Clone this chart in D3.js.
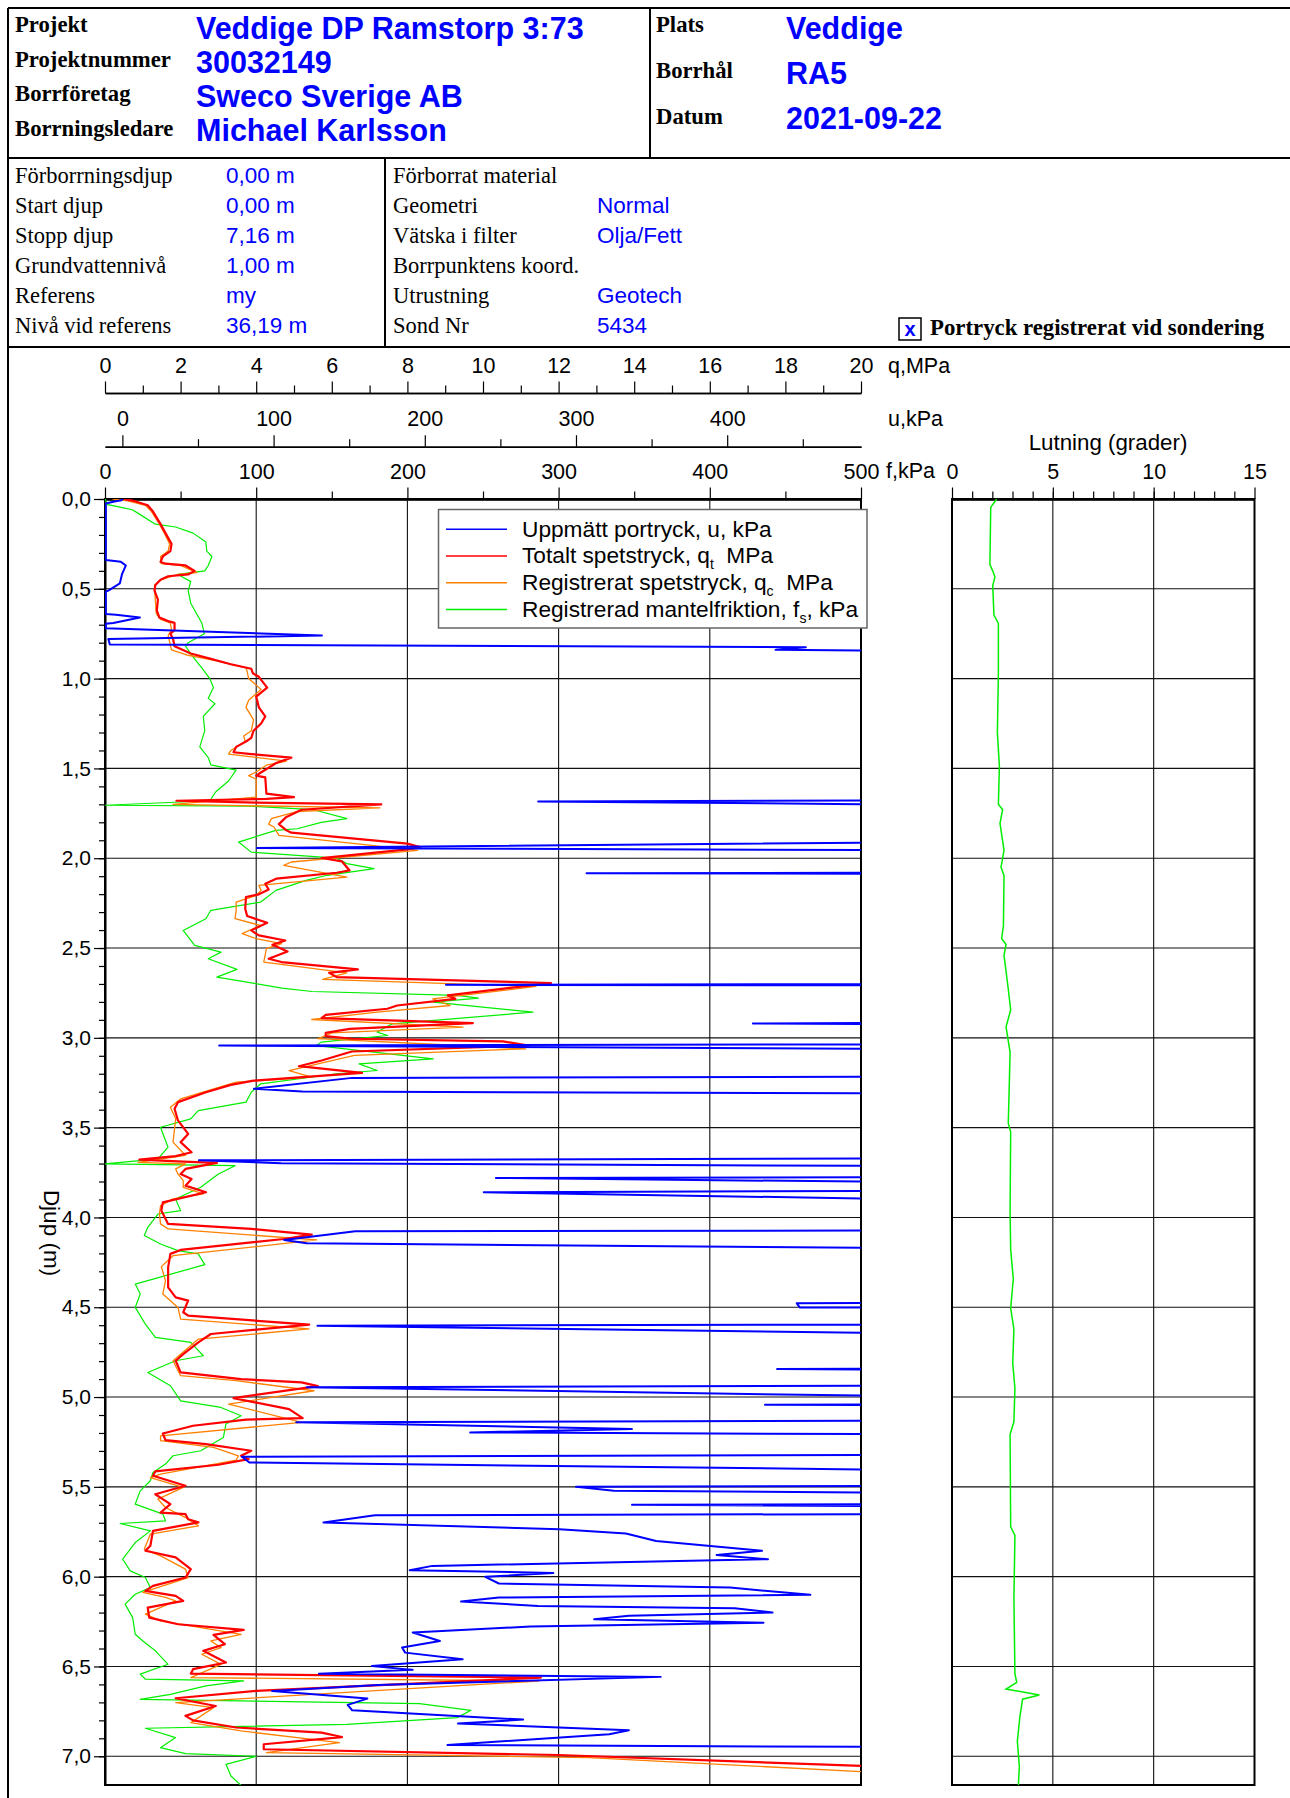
<!DOCTYPE html>
<html lang="sv">
<head>
<meta charset="UTF-8">
<title>Veddige DP Ramstorp 3:73 - RA5</title>
<script src="https://d3js.org/d3.v7.min.js"></script>
<style>
  body { margin: 0; background: #fff; }
  svg { display: block; }
</style>
</head>
<body>
<svg id="chart" width="1290" height="1798"></svg>
<script>
// header texts
const projectLabels = ["Projekt", "Projektnummer", "Borrföretag", "Borrningsledare"];
const projectValues = ["Veddige DP Ramstorp 3:73", "30032149", "Sweco Sverige AB", "Michael Karlsson"];
const placeLabels = ["Plats", "Borrhål", "Datum"];
const placeValues = ["Veddige", "RA5", "2021-09-22"];
const depthInfoLabels = ["Förborrningsdjup", "Start djup", "Stopp djup", "Grundvattennivå", "Referens", "Nivå vid referens"];
const depthInfoValues = ["0,00 m", "0,00 m", "7,16 m", "1,00 m", "my", "36,19 m"];
const probeLabels = ["Förborrat material", "Geometri", "Vätska i filter", "Borrpunktens koord.", "Utrustning", "Sond Nr"];
const probeValues = ["", "Normal", "Olja/Fett", "", "Geotech", "5434"];

// axis ticks
const qTicks = d3.range(0, 21, 2);
const qMinor = d3.range(1, 20, 2);
const uTicks = [0, 100, 200, 300, 400];
const uMinor = [50, 150, 250, 350, 450];
const fTicks = [0, 100, 200, 300, 400, 500];
const fMinor = [50, 150, 250, 350, 450];
const tiltTicks = [0, 5, 10, 15];
const tiltMinor = d3.range(1, 15);
const depthTicks = d3.range(0, 7.01, 0.5);

// series: [depth m, value]
// u, kPa
const uPoints = [[0.00,0.3],[0.007,-0.7],[0.015,-6],[0.025,-11],[0.34,-11],[0.35,-1],[0.37,2.3],[0.42,-0.3],[0.47,-1.7],[0.51,-9.3],[0.515,-11],[0.64,-11],[0.645,-4.3],[0.66,11.6],[0.69,-6],[0.695,-11],[0.72,-11],[0.76,132],[0.78,-9.3],[0.81,-8.3],[0.825,452],[0.84,432],[0.85,600],
  [1.675,600],[1.684,275],[1.707,600],[1.905,600],[1.943,89],[1.958,600],[2.08,600],[2.083,307],[2.088,600],[2.70,600],[2.705,214],[2.708,600],[2.915,600],[2.920,417],[2.926,600],
  [3.035,600],[3.043,64],[3.065,600],[3.215,600],[3.223,152],[3.284,87],[3.299,119],[3.312,600],[3.67,600],[3.682,50.6],[3.698,105],[3.717,600],[3.775,600],[3.780,247],[3.810,600],
  [3.850,600],[3.860,239],[3.910,600],[4.072,600],[4.077,154],[4.126,107],[4.144,122],[4.176,600],[4.470,600],[4.478,446],[4.501,448],[4.503,600],[4.595,600],[4.603,129],[4.655,600],
  [4.840,600],[4.844,433],[4.853,600],[4.935,600],[4.946,122],[5.006,600],[5.040,600],[5.043,425],[5.046,600],[5.130,600],[5.141,115],[5.178,337],[5.197,230],[5.210,600],
  [5.320,600],[5.332,79],[5.364,84],[5.414,600],[5.492,600],[5.500,300],[5.522,325],[5.537,600],[5.595,600],[5.600,337],[5.611,600],[5.650,600],[5.658,167],[5.698,133],[5.736,289],
  [5.760,333],[5.801,353],[5.856,423],[5.879,393],[5.903,427],[5.940,205],[5.964,190],[5.979,285],[6.001,240],[6.038,249],[6.061,402],[6.101,455],[6.116,249],[6.139,224],[6.163,275],
  [6.176,405],[6.200,430],[6.218,335],[6.237,312],[6.256,424],[6.278,270],[6.311,192],[6.358,210],[6.395,185],[6.423,187],[6.460,225],[6.497,165],[6.519,192],[6.540,130],[6.558,356],
  [6.603,169],[6.636,99],[6.679,162],[6.714,149],[6.744,152],[6.796,265],[6.818,222],[6.855,335],[6.878,322],[6.937,215],[6.952,600],[7.16,600]];

// qt, MPa
const qtPoints = [[0.00,0.50],[0.01,0.75],[0.035,1.13],[0.07,1.27],[0.14,1.47],[0.19,1.60],[0.25,1.76],[0.29,1.73],[0.32,1.53],[0.35,1.47],[0.36,1.60],[0.37,2.13],[0.40,2.37],[0.42,2.20],
  [0.43,1.67],[0.45,1.47],[0.48,1.33],[0.51,1.31],[0.56,1.40],[0.62,1.37],[0.66,1.44],[0.68,1.67],[0.69,1.84],[0.73,1.84],[0.75,1.73],[0.78,1.80],[0.82,1.84],[0.86,2.27],[0.89,2.80],
  [0.92,3.33],[0.945,3.87],[0.97,3.91],[0.99,4.07],[1.05,4.29],[1.10,4.00],[1.16,4.07],[1.21,4.24],[1.25,4.13],[1.29,3.93],[1.33,3.87],[1.35,3.73],[1.38,3.47],[1.41,3.40],[1.42,3.87],
  [1.44,4.93],[1.47,4.53],[1.53,4.07],[1.54,4.00],[1.55,4.24],[1.64,4.27],[1.66,5.00],[1.67,4.27],[1.68,1.89],[1.69,4.00],[1.70,7.31],[1.73,5.20],[1.77,4.80],[1.81,4.60],[1.845,4.80],
  [1.858,4.93],[1.919,8.00],[1.938,8.33],[1.951,8.00],[1.999,5.73],[2.018,6.27],[2.068,6.47],[2.081,6.13],[2.114,4.53],[2.142,4.24],[2.174,4.33],[2.201,4.07],[2.216,3.73],[2.281,3.71],
  [2.322,3.76],[2.359,4.29],[2.402,3.87],[2.430,4.07],[2.458,4.77],[2.482,4.43],[2.519,4.83],[2.560,4.33],[2.578,4.67],[2.619,6.69],[2.638,5.93],[2.662,6.13],[2.695,11.8],[2.764,9.07],
  [2.783,9.27],[2.820,7.73],[2.838,7.47],[2.872,5.84],[2.890,5.73],[2.918,9.73],[2.950,6.47],[2.972,5.84],[2.991,5.84],[3.005,6.53],[3.020,10.53],[3.043,11.2],[3.076,6.53],[3.126,5.73],
  [3.158,5.13],[3.195,6.80],[3.238,3.93],[3.262,3.33],[3.303,2.67],[3.358,1.93],[3.395,1.84],[3.460,1.93],[3.535,2.20],[3.581,2.00],[3.637,2.29],[3.659,1.87],[3.678,0.91],[3.689,2.07],
  [3.696,2.96],[3.730,2.13],[3.758,2.00],[3.786,2.29],[3.823,2.13],[3.860,2.67],[3.916,1.53],[3.962,1.49],[4.036,1.67],[4.064,3.87],[4.096,5.47],[4.120,4.73],[4.181,2.00],[4.203,1.73],
  [4.278,1.67],[4.389,1.67],[4.445,1.87],[4.463,2.20],[4.528,2.07],[4.547,2.20],[4.597,5.40],[4.649,2.80],[4.696,2.47],[4.761,2.07],[4.798,1.87],[4.863,2.00],[4.900,3.60],[4.918,5.20],
  [4.939,5.63],[5.006,3.40],[5.067,4.87],[5.117,5.23],[5.126,3.73],[5.160,2.33],[5.203,1.53],[5.240,1.60],[5.262,2.67],[5.299,3.87],[5.327,3.60],[5.346,3.80],[5.377,3.00],[5.414,1.33],
  [5.438,1.27],[5.494,2.13],[5.541,1.33],[5.596,1.73],[5.643,1.47],[5.652,2.13],[5.680,2.20],[5.698,2.47],[5.745,1.27],[5.828,1.20],[5.856,1.07],[5.893,1.87],[5.958,2.27],[6.005,2.13],
  [6.051,1.27],[6.079,1.07],[6.107,1.87],[6.135,2.07],[6.172,1.13],[6.228,1.17],[6.265,1.93],[6.296,3.67],[6.324,2.87],[6.376,3.17],[6.413,2.60],[6.478,3.20],[6.515,2.33],[6.540,2.27],
  [6.562,11.53],[6.636,4.00],[6.677,1.87],[6.720,2.93],[6.775,2.13],[6.800,2.33],[6.840,3.47],[6.868,5.73],[6.893,6.27],[6.933,4.20],[6.961,4.20],[6.993,12.0],[7.054,20.0],[7.10,24],[7.16,28]];

// qc, MPa
const qcPoints = [[0.00,0.20],[0.01,0.60],[0.035,1.07],[0.07,1.23],[0.14,1.44],[0.19,1.57],[0.25,1.71],[0.29,1.67],[0.32,1.47],[0.36,1.49],[0.37,2.00],[0.41,2.43],[0.42,1.93],[0.45,1.47],
  [0.48,1.31],[0.56,1.33],[0.64,1.36],[0.67,1.47],[0.69,1.73],[0.73,1.76],[0.76,1.67],[0.84,1.76],[0.87,2.20],[0.90,2.93],[0.94,3.73],[0.96,3.76],[1.00,3.80],[1.06,4.13],[1.12,3.80],
  [1.16,3.73],[1.23,3.93],[1.29,3.87],[1.32,3.67],[1.35,3.71],[1.40,3.33],[1.42,3.27],[1.46,4.80],[1.48,4.29],[1.52,4.00],[1.54,3.80],[1.56,4.00],[1.66,4.00],[1.70,1.80],[1.72,7.27],
  [1.74,5.07],[1.78,4.40],[1.81,4.33],[1.826,4.47],[1.873,4.60],[1.956,8.27],[2.021,4.93],[2.040,4.73],[2.105,6.40],[2.151,4.07],[2.179,4.13],[2.207,4.00],[2.244,3.47],[2.290,3.47],
  [2.337,3.44],[2.374,4.11],[2.420,3.63],[2.448,4.00],[2.476,4.67],[2.504,4.27],[2.578,4.20],[2.638,6.40],[2.675,5.76],[2.714,11.4],[2.783,8.67],[2.820,9.13],[2.857,7.20],[2.898,5.47],
  [2.940,9.47],[2.972,6.00],[3.005,5.63],[3.061,11.13],[3.098,6.60],[3.182,4.87],[3.219,5.47],[3.247,3.47],[3.340,2.00],[3.386,1.73],[3.451,1.87],[3.581,1.80],[3.655,2.13],[3.693,0.87],
  [3.702,2.13],[3.730,1.87],[3.758,1.93],[3.795,2.07],[3.832,2.07],[3.869,2.60],[3.897,1.80],[3.934,1.47],[3.981,1.44],[4.036,1.47],[4.064,1.67],[4.125,5.60],[4.213,1.80],[4.274,1.49],
  [4.352,1.60],[4.426,1.53],[4.501,1.93],[4.566,2.00],[4.621,5.40],[4.677,2.47],[4.798,1.80],[4.881,2.00],[4.909,3.47],[4.965,5.53],[5.039,3.27],[5.141,5.20],[5.216,1.47],[5.243,1.47],
  [5.280,2.87],[5.327,3.53],[5.351,3.47],[5.429,1.47],[5.448,1.20],[5.503,2.07],[5.568,1.40],[5.615,1.60],[5.671,2.13],[5.717,2.47],[5.763,1.20],[5.847,1.04],[5.884,1.47],[5.958,2.13],
  [6.005,2.20],[6.088,1.00],[6.116,1.60],[6.135,1.87],[6.209,1.07],[6.246,1.47],[6.321,3.60],[6.358,2.80],[6.395,3.07],[6.432,2.56],[6.488,3.07],[6.562,2.27],[6.581,11.47],[6.701,1.87],
  [6.729,2.87],[6.813,2.27],[6.859,3.60],[6.924,6.20],[6.980,4.27],[7.008,12.8],[7.085,20.0],[7.16,26]];

// fs, kPa
const fsPoints = [[0.00,0.3],[0.03,1.0],[0.045,10],[0.06,18],[0.08,22],[0.14,33.3],[0.156,46.7],[0.19,58.3],[0.24,66.7],[0.29,67.3],[0.32,70.7],[0.37,68.3],[0.40,66.0],[0.42,48.3],
  [0.46,56.7],[0.51,55.0],[0.58,56.7],[0.64,60.7],[0.69,64.0],[0.75,65.7],[0.80,55.0],[0.82,53.3],[0.88,58.3],[0.94,64.0],[1.00,69.3],[1.05,71.7],[1.11,68.3],[1.14,72.7],[1.21,65.0],
  [1.29,66.0],[1.38,62.7],[1.44,68.3],[1.48,70.0],[1.51,86.7],[1.57,81.7],[1.63,73.3],[1.68,69.3],[1.705,0],[1.71,96.7],[1.73,138],[1.78,160],[1.80,143],[1.836,127],[1.845,113],
  [1.910,88.3],[1.966,96.7],[1.999,153],[2.030,160],[2.058,178],[2.095,147],[2.123,133],[2.179,113],[2.244,103],[2.290,70],[2.337,66.7],[2.402,51.7],[2.485,59.3],[2.523,76.7],
  [2.560,68.3],[2.619,87.3],[2.662,74],[2.723,117],[2.742,137],[2.764,233],[2.779,247],[2.801,217],[2.857,283],[2.922,190],[2.968,180],[2.987,187],[3.024,143],[3.043,140],[3.117,217],
  [3.145,168],[3.182,180],[3.200,153],[3.256,103],[3.303,96.7],[3.358,93.3],[3.405,61.7],[3.451,56.7],[3.498,36.7],[3.609,41.7],[3.674,35],[3.702,0],[3.712,86],[3.758,75],[3.832,63.3],
  [3.897,46.7],[3.962,50],[3.981,35],[4.055,28.3],[4.101,26],[4.148,36.7],[4.185,48.3],[4.203,61.7],[4.263,66],[4.324,40],[4.371,20],[4.426,23.3],[4.501,20],[4.594,26.7],[4.668,33.3],
  [4.696,56.7],[4.770,65],[4.798,46.7],[4.863,28.3],[4.937,43.3],[5.021,50],[5.058,76.7],[5.104,90],[5.150,80],[5.225,78.3],[5.299,63.3],[5.327,45],[5.373,40],[5.420,31.7],[5.466,30],
  [5.522,23.3],[5.596,20],[5.652,38.3],[5.689,40],[5.704,10],[5.745,30],[5.810,20],[5.903,11.7],[5.968,16.7],[6.005,26.7],[6.061,30],[6.098,20],[6.153,13.3],[6.228,18.3],[6.321,20],
  [6.358,25],[6.413,33.3],[6.488,41.7],[6.543,23.3],[6.571,26.7],[6.580,91.7],[6.608,66.7],[6.655,43.3],[6.683,23.3],[6.707,208],[6.744,242],[6.785,233],[6.822,160],[6.844,26.7],
  [6.896,46.7],[6.952,36.7],[6.985,53.3],[7.000,100],[7.045,80],[7.110,83.3],[7.162,90]];

// lutning, grader
const tiltPoints = [[0.0,2.21],[0.047,1.92],[0.365,1.88],[0.40,2.02],[0.435,2.13],[0.48,2.02],[0.646,2.08],[0.693,2.30],[0.973,2.30],[1.30,2.25],[1.488,2.35],[1.70,2.30],[1.73,2.51],
  [1.806,2.38],[1.956,2.58],[2.05,2.43],[2.096,2.58],[2.377,2.55],[2.447,2.46],[2.48,2.68],[2.541,2.58],[2.728,2.79],[2.845,2.91],[2.939,2.68],[3.079,2.88],[3.266,2.84],[3.477,2.79],
  [3.524,2.91],[3.968,2.88],[4.179,2.91],[4.343,3.04],[4.506,2.91],[4.623,3.07],[4.810,3.01],[4.951,3.12],[5.138,3.07],[5.208,2.88],[5.723,2.91],[5.770,3.12],[6.121,3.07],[6.542,3.12],
  [6.589,3.21],[6.626,2.68],[6.659,4.33],[6.682,3.50],[6.776,3.37],[6.916,3.24],[7.057,3.34],[7.164,3.29]];

const legendItems = [
  { text: "Uppmätt portryck, u, kPa", sub: null, after: "", color: "#0000ff" },
  { text: "Totalt spetstryck, q", sub: "t", after: "  MPa", color: "#ff0000" },
  { text: "Registrerat spetstryck, q", sub: "c", after: "  MPa", color: "#ff8000" },
  { text: "Registrerad mantelfriktion, f", sub: "s", after: ", kPa", color: "#00ee00" }
];

const SERIF = '"Liberation Serif", "Times New Roman", serif';
const SANS = '"Liberation Sans", Arial, sans-serif';
const BLUE = "#0000ff";

const svg = d3.select("#chart");
svg.append("rect").attr("width", 1290).attr("height", 1798).attr("fill", "#fff");

// ---- header frame
const frame = [[8, 8, 1290, 8], [8, 158, 1290, 158], [8, 347, 1290, 347], [650, 8, 650, 158], [385, 158, 385, 347], [8, 8, 8, 1798]];
svg.selectAll("line.frame").data(frame).enter().append("line")
  .attr("class", "frame")
  .attr("x1", d => d[0]).attr("y1", d => d[1]).attr("x2", d => d[2]).attr("y2", d => d[3])
  .attr("stroke", "#000").attr("stroke-width", 2);

function textRows(labels, x, ys, font, size, weight, color) {
  svg.append("g").selectAll("text").data(labels).enter().append("text")
    .attr("x", x).attr("y", (d, i) => ys[i])
    .attr("font-family", font).attr("font-size", size).attr("font-weight", weight)
    .attr("fill", color).text(d => d);
}

textRows(projectLabels, 15, [32, 67, 101, 136], SERIF, 22.7, "bold", "#000");
textRows(projectValues, 196, [39, 73, 107, 141], SANS, 30.5, "bold", BLUE);
textRows(placeLabels, 656, [32, 78, 124], SERIF, 22.7, "bold", "#000");
textRows(placeValues, 786, [39, 84, 129], SANS, 30.5, "bold", BLUE);

const infoRows = [183, 213, 243, 273, 303, 333];
textRows(depthInfoLabels, 15, infoRows, SERIF, 22.5, "normal", "#000");
textRows(depthInfoValues, 226, infoRows, SANS, 22.5, "normal", BLUE);
textRows(probeLabels, 393, infoRows, SERIF, 22.5, "normal", "#000");
textRows(probeValues, 597, infoRows, SANS, 22.5, "normal", BLUE);

svg.append("rect").attr("x", 899).attr("y", 318).attr("width", 22).attr("height", 22)
  .attr("fill", "none").attr("stroke", "#000").attr("stroke-width", 1.5);
svg.append("text").attr("x", 910).attr("y", 336).attr("text-anchor", "middle")
  .attr("font-family", SANS).attr("font-size", 20).attr("font-weight", "bold").attr("fill", BLUE).text("x");
svg.append("text").attr("x", 930).attr("y", 335)
  .attr("font-family", SERIF).attr("font-size", 22.8).attr("font-weight", "bold").text("Portryck registrerat vid sondering");

// ---- scales
const plotTop = 499, plotBottom = 1785;
const y = d3.scaleLinear().domain([0, 7.16]).range([plotTop, plotBottom]);
const xq = d3.scaleLinear().domain([0, 20]).range([105, 861]);
const xf = d3.scaleLinear().domain([0, 500]).range([105, 861]);
const xu = d3.scaleLinear().domain([-11.5, 488.5]).range([105, 861]);
const xt = d3.scaleLinear().domain([0, 15]).range([952, 1254.5]);

const AXIS_FONT = 21.5;

function styleAxis(g, size) {
  g.attr("font-family", SANS).attr("font-size", size).attr("color", "#000");
  g.selectAll("text").attr("fill", "#000");
  g.select(".domain").attr("stroke-width", 1.6);
  g.selectAll(".tick line").attr("stroke-width", 1.2);
}

// top axes: q, u, f and tilt
function topAxis(scale, yPos, majors, minors, fmt, lineWidth) {
  const gMinor = svg.append("g").attr("transform", `translate(0,${yPos})`)
    .call(d3.axisTop(scale).tickValues(minors).tickSize(7.5).tickSizeOuter(0).tickFormat(""));
  styleAxis(gMinor, AXIS_FONT);
  const g = svg.append("g").attr("transform", `translate(0,${yPos})`)
    .call(d3.axisTop(scale).tickValues(majors).tickSize(11.5).tickSizeOuter(0).tickPadding(9).tickFormat(fmt));
  styleAxis(g, AXIS_FONT);
  g.select(".domain").attr("stroke-width", lineWidth);
  return g;
}
topAxis(xq, 393, qTicks, qMinor, d3.format("d"), 1.6);
topAxis(xu, 446.7, uTicks, uMinor, d3.format("d"), 1.6);
topAxis(xf, plotTop, fTicks, fMinor, d3.format("d"), 2.5);
topAxis(xt, plotTop, tiltTicks, tiltMinor, d3.format("d"), 2.5);

const unitLabels = [["q,MPa", 888, 373], ["u,kPa", 888, 426], ["f,kPa", 886, 478]];
svg.append("g").selectAll("text").data(unitLabels).enter().append("text")
  .attr("x", d => d[1]).attr("y", d => d[2])
  .attr("font-family", SANS).attr("font-size", AXIS_FONT).text(d => d[0]);
svg.append("text").attr("x", 1108).attr("y", 450).attr("text-anchor", "middle")
  .attr("font-family", SANS).attr("font-size", 22.3).text("Lutning (grader)");

// depth axis
const gyMinor = svg.append("g").attr("transform", "translate(105,0)")
  .call(d3.axisLeft(y).tickValues(d3.range(0, 71).map(i => i / 10)).tickSize(6).tickSizeOuter(0).tickFormat(""));
styleAxis(gyMinor, 21);
const gy = svg.append("g").attr("transform", "translate(105,0)")
  .call(d3.axisLeft(y).tickValues(depthTicks).tickSize(11).tickSizeOuter(0).tickPadding(3)
    .tickFormat(d => d.toFixed(1).replace(".", ",")));
styleAxis(gy, 21);
svg.append("text").attr("transform", "translate(44,1233) rotate(90)").attr("text-anchor", "middle")
  .attr("font-family", SANS).attr("font-size", 22.5).text("Djup (m)");

// grids
const grid = svg.append("g").attr("stroke", "#111").attr("stroke-width", 1.1);
grid.selectAll("line.hm").data(depthTicks.filter(d => d > 0)).enter().append("line")
  .attr("x1", 105).attr("x2", 861).attr("y1", d => y(d)).attr("y2", d => y(d));
grid.selectAll("line.ht").data(depthTicks.filter(d => d > 0)).enter().append("line")
  .attr("x1", 952).attr("x2", 1254.5).attr("y1", d => y(d)).attr("y2", d => y(d));
grid.selectAll("line.vm").data([100, 200, 300, 400]).enter().append("line")
  .attr("x1", d => xf(d)).attr("x2", d => xf(d)).attr("y1", plotTop).attr("y2", plotBottom);
grid.selectAll("line.vt").data([5, 10]).enter().append("line")
  .attr("x1", d => xt(d)).attr("x2", d => xt(d)).attr("y1", plotTop).attr("y2", plotBottom);

// plot frames
svg.append("rect").attr("x", 105).attr("y", plotTop).attr("width", 756).attr("height", plotBottom - plotTop)
  .attr("fill", "none").attr("stroke", "#000").attr("stroke-width", 2);
svg.append("rect").attr("x", 952).attr("y", plotTop).attr("width", 302.5).attr("height", plotBottom - plotTop)
  .attr("fill", "none").attr("stroke", "#000").attr("stroke-width", 2);

// clip
const defs = svg.append("defs");
defs.append("clipPath").attr("id", "clipMain").append("rect")
  .attr("x", 105).attr("y", plotTop).attr("width", 756).attr("height", plotBottom - plotTop);
defs.append("clipPath").attr("id", "clipTilt").append("rect")
  .attr("x", 952).attr("y", plotTop).attr("width", 302.5).attr("height", plotBottom - plotTop);

// series
const main = svg.append("g").attr("clip-path", "url(#clipMain)");
function drawSeries(points, xs, color, width) {
  main.append("path").datum(points)
    .attr("d", d3.line().x(d => xs(d[1])).y(d => y(d[0])))
    .attr("fill", "none").attr("stroke", color).attr("stroke-width", width)
    .attr("stroke-linejoin", "round");
}
drawSeries(fsPoints, xf, "#00ee00", 1.2);
drawSeries(qcPoints, xq, "#ff8000", 1.3);
drawSeries(qtPoints, xq, "#ff0000", 2.2);
drawSeries(uPoints, xu, "#0000ff", 2);

svg.append("g").attr("clip-path", "url(#clipTilt)").append("path").datum(tiltPoints)
  .attr("d", d3.line().x(d => xt(d[1])).y(d => y(d[0])))
  .attr("fill", "none").attr("stroke", "#00ee00").attr("stroke-width", 1.5);

// legend
const legend = svg.append("g");
legend.append("rect").attr("x", 438.5).attr("y", 509.5).attr("width", 428.5).attr("height", 118.5)
  .attr("fill", "#fff").attr("stroke", "#666").attr("stroke-width", 1.5);
const rows = legend.selectAll("g.item").data(legendItems).enter().append("g")
  .attr("transform", (d, i) => `translate(0,${536.7 + i * 26.7})`);
rows.append("line").attr("x1", 446).attr("x2", 507).attr("y1", -7.4).attr("y2", -7.4)
  .attr("stroke", d => d.color).attr("stroke-width", 1.5);
const lt = rows.append("text").attr("x", 522).attr("font-family", SANS).attr("font-size", 22.7);
lt.append("tspan").text(d => d.text);
lt.filter(d => d.sub).append("tspan").attr("font-size", 14).attr("dy", 6).text(d => d.sub);
lt.filter(d => d.sub).append("tspan").attr("dy", -6).style("white-space", "pre").text(d => d.after);
</script>
</body>
</html>
